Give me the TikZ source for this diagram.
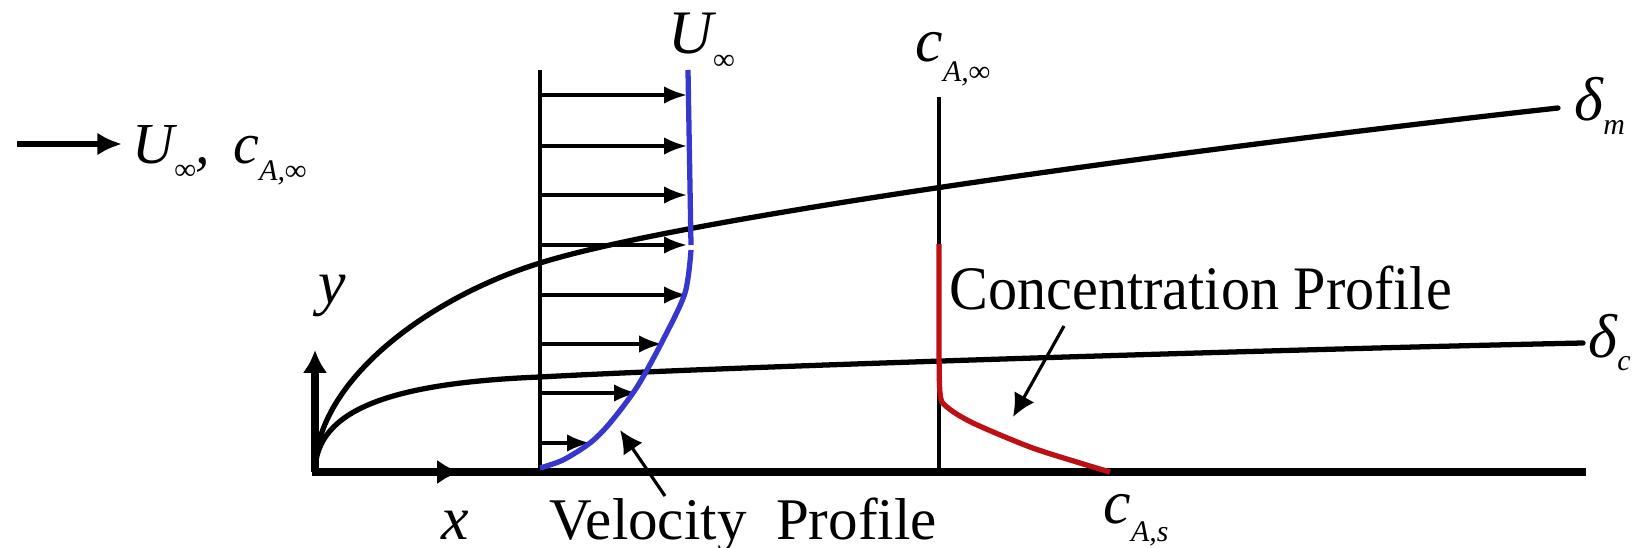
\documentclass[tikz,border=0pt]{standalone}
\usepackage{fontspec}
\setmainfont{Liberation Serif}
\usetikzlibrary{arrows.meta}
\usepackage{xcolor}
\definecolor{velblue}{RGB}{55,55,205}
\definecolor{conred}{RGB}{190,15,20}
\newcommand{\lowsub}[2][0.28em]{\raisebox{-#1}{\fontsize{8.5}{9}\selectfont #2}}

\begin{document}
\begin{tikzpicture}[x=0.1mm, y=-0.1mm, >=Latex,
  lbl/.style={inner sep=0pt, anchor=base west, font=\fontsize{17.6}{20}\selectfont},
  sym/.style={lbl, font=\fontsize{17.6}{20}\selectfont\itshape},
  fine/.style={line width=1pt},
  bl/.style={line width=1.5pt, line cap=round},
  wall/.style={line width=2.4pt},
  vel/.style={fine, -{Latex[length=6.5pt,width=5pt]}},
  ptr/.style={line width=0.9pt, -{Latex[length=6.5pt,width=6.5pt]}},
  ax/.style={line width=2.2pt, -{Latex[length=6.5pt,width=7pt]}}]
\useasboundingbox (0,0) rectangle (1634,548);

% --- wall and axes ---
\coordinate (O) at (315,472);
\draw[wall] (312,472) -- (1586,472);
\draw[ax] (O) -- (315,350);
\draw[ax] (O) -- (460,472);
\node[sym] (ylbl) at (318,303) {y};
\node[sym] (xlbl) at (441,539) {x};

% --- free stream ---
\draw[line width=1.7pt, -{Latex[length=7pt,width=6.5pt]}] (17,144) -- (122,144);
\node[sym, font=\fontsize{16.5}{20}\selectfont\itshape] (inflow) at (132,163)
  {U\lowsub{∞},\hspace{0.4em}c\lowsub[0.3em]{A,∞}};

% --- boundary layers ---
\coordinate (dmend) at (1558,108);
\coordinate (dcend) at (1583,343);
\draw[bl] (315,470) .. controls (316,380) and (430,297) .. (540,263)
  .. controls (700,213) and (1258,141) .. (dmend);
\draw[bl] (315,470) .. controls (317,410) and (390,383) .. (540,377)
  .. controls (740,366) and (1300,349) .. (dcend);
\node[sym] (dm) at (1574,120) {δ\lowsub[0.24em]{m}};
\node[sym] (dc) at (1588,357) {δ\lowsub[0.22em]{c}};

% --- velocity profile ---
\draw[fine] (540,70) -- (540,472);
\foreach \y/\tip in {95/687, 146/687, 195/687, 245/687, 295/687, 344/662, 393/637, 443/590}{
  \draw[vel] (540,\y) -- (\tip,\y);
}
\draw[velblue, line width=1.5pt] (688,70) -- (691,245)
  plot[smooth, tension=0.5] coordinates {(691,250) (685,293) (663,340) (637,387)
  (610,423) (590,443) (563,460) (540,468)};
\node[sym] (uinf) at (668,53) {U\lowsub[0.27em]{∞}};
\node[lbl, font=\fontsize{16.8}{20}\selectfont] (vprof) at (549,539) {Velocity\ \ Profile};
\draw[ptr] (665,496) -- (620,430);

% --- concentration profile ---
\draw[fine] (939,97) -- (939,472);
\draw[conred, line width=1.5pt] plot[smooth, tension=0.5] coordinates {(939,244) (939,330)
  (940,393) (947,407) (973,423) (1030,447) (1080,463) (1110,472)};
\node[sym] (cinf) at (915,62) {c\lowsub[0.32em]{A,∞}};
\node[lbl] (cprof) at (949,309) {\scalebox{0.94}[1]{Concentration Profile}};
\draw[ptr] (1064,326) -- (1013,417);
\node[sym] (cas) at (1103,523) {c\lowsub[0.3em]{A,s}};
\end{tikzpicture}
\end{document}
